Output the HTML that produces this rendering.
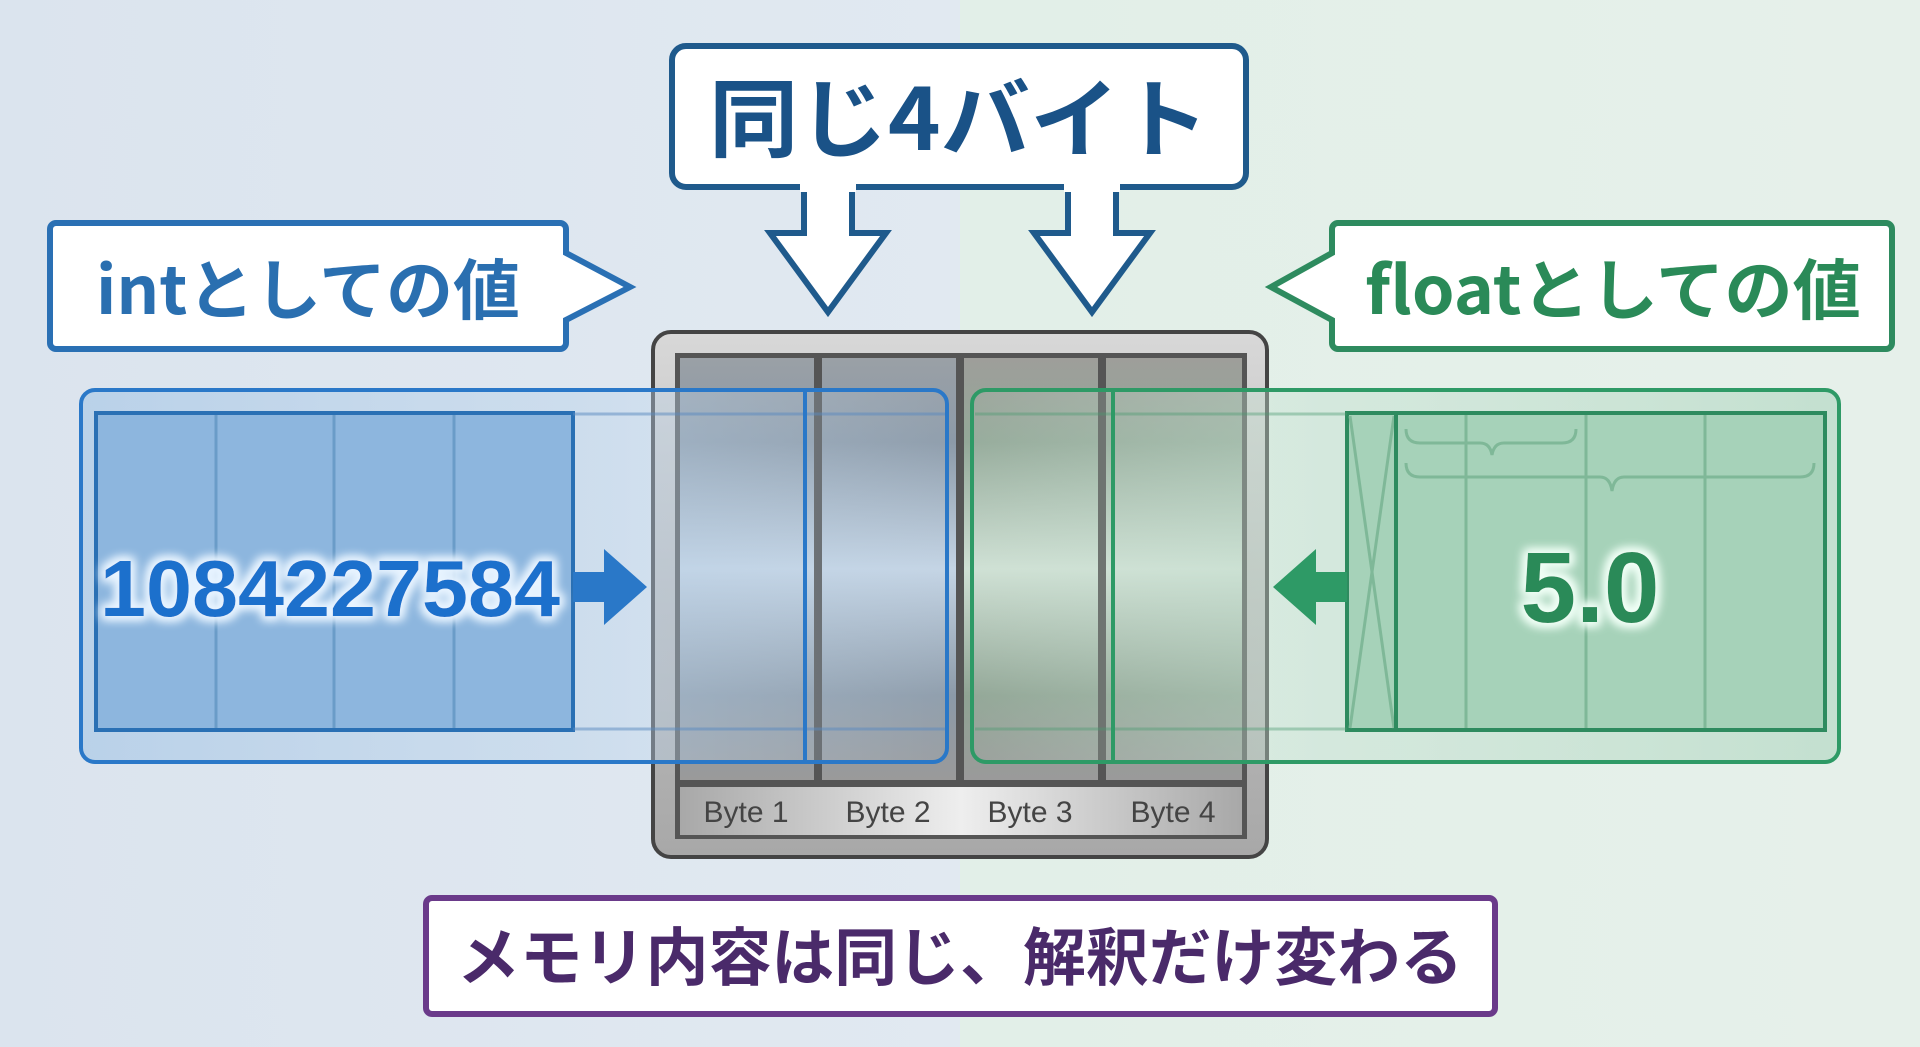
<!DOCTYPE html>
<html><head><meta charset="utf-8"><style>
html,body{margin:0;padding:0;width:1920px;height:1047px;overflow:hidden}
svg{display:block}
text{font-family:"Liberation Sans","Noto Sans CJK JP",sans-serif}
.jp{font-family:"Noto Sans CJK JP","Liberation Sans",sans-serif;font-weight:700}
</style></head><body>
<svg width="1920" height="1047" viewBox="0 0 1920 1047" xmlns="http://www.w3.org/2000/svg">
<defs>
<linearGradient id="bgL" x1="0" y1="0" x2="1" y2="0"><stop offset="0" stop-color="#dbe4ee"/><stop offset="1" stop-color="#e1e9f1"/></linearGradient>
<linearGradient id="bgR" x1="0" y1="0" x2="1" y2="0"><stop offset="0" stop-color="#e2efe8"/><stop offset="1" stop-color="#e6f0ea"/></linearGradient>
<linearGradient id="memOuter" x1="0" y1="0" x2="0" y2="1"><stop offset="0" stop-color="#d8d8d8"/><stop offset="0.5" stop-color="#bdbdbd"/><stop offset="1" stop-color="#a8a8a8"/></linearGradient>
<linearGradient id="colB" x1="0" y1="0" x2="0" y2="1"><stop offset="0" stop-color="#9aa0a6"/><stop offset="0.2" stop-color="#8c9aa8"/><stop offset="0.5" stop-color="#c4d4e4"/><stop offset="0.8" stop-color="#8c9aa8"/><stop offset="1" stop-color="#9a9a9a"/></linearGradient>
<linearGradient id="colG" x1="0" y1="0" x2="0" y2="1"><stop offset="0" stop-color="#9e9e9a"/><stop offset="0.2" stop-color="#93a898"/><stop offset="0.5" stop-color="#cfe0d4"/><stop offset="0.8" stop-color="#8fa393"/><stop offset="1" stop-color="#9a9a9a"/></linearGradient>
<linearGradient id="byteRow" x1="0" y1="0" x2="1" y2="0"><stop offset="0" stop-color="#a8a8a8"/><stop offset="0.5" stop-color="#eeeeee"/><stop offset="1" stop-color="#a8a8a8"/></linearGradient>
<linearGradient id="blueFade" x1="0" y1="0" x2="1" y2="0"><stop offset="0" stop-color="#a9c8e6" stop-opacity="0.9"/><stop offset="0.6" stop-color="#b9d2ea" stop-opacity="0.6"/><stop offset="1" stop-color="#c8dcef" stop-opacity="0.1"/></linearGradient>
<linearGradient id="greenFade" x1="1" y1="0" x2="0" y2="0"><stop offset="0" stop-color="#b3d8c3" stop-opacity="0.9"/><stop offset="0.6" stop-color="#c2e0cf" stop-opacity="0.6"/><stop offset="1" stop-color="#d0e8da" stop-opacity="0.1"/></linearGradient>
<filter id="glowB" x="-20%" y="-50%" width="140%" height="200%"><feMorphology operator="dilate" radius="3" in="SourceAlpha" result="d"/><feGaussianBlur in="d" stdDeviation="5" result="b"/><feFlood flood-color="#e8f4ff"/><feComposite in2="b" operator="in" result="g"/><feMerge><feMergeNode in="g"/><feMergeNode in="g"/><feMergeNode in="SourceGraphic"/></feMerge></filter>
<filter id="glowG" x="-20%" y="-50%" width="140%" height="200%"><feMorphology operator="dilate" radius="3" in="SourceAlpha" result="d"/><feGaussianBlur in="d" stdDeviation="5" result="b"/><feFlood flood-color="#f0fff6"/><feComposite in2="b" operator="in" result="g"/><feMerge><feMergeNode in="g"/><feMergeNode in="g"/><feMergeNode in="SourceGraphic"/></feMerge></filter>
</defs>
<rect x="0" y="0" width="960" height="1047" fill="url(#bgL)"/>
<rect x="960" y="0" width="960" height="1047" fill="url(#bgR)"/>

<!-- Title -->
<rect x="672" y="46" width="574" height="141" rx="14" fill="#fff" stroke="#1f5a8c" stroke-width="6"/>
<text x="959" y="150" class="jp" font-size="86" fill="#1a5287" text-anchor="middle" textLength="500" lengthAdjust="spacingAndGlyphs">同じ4バイト</text>
<!-- hollow arrows -->
<g fill="#fff" stroke="#1f5a8c" stroke-width="6" stroke-linejoin="miter">
<path d="M804 190 V233 H770 L828 312 L886 233 H852 V190"/>
<path d="M1068 190 V233 H1034 L1092 312 L1150 233 H1116 V190"/>
</g>
<rect x="800" y="180" width="56" height="12" fill="#fff"/>
<rect x="1064" y="180" width="56" height="12" fill="#fff"/>

<!-- int label -->
<path d="M56 223 H560 a6 6 0 0 1 6 6 V253 L630 287 L566 320 V343 a6 6 0 0 1 -6 6 H56 a6 6 0 0 1 -6 -6 V229 a6 6 0 0 1 6 -6 Z" fill="#fff" stroke="#2a70b4" stroke-width="6"/>
<text x="96" y="314" class="jp" font-size="66" fill="#2a6fb0" textLength="424" lengthAdjust="spacingAndGlyphs">intとしての値</text>
<!-- float label -->
<path d="M1338 223 H1886 a6 6 0 0 1 6 6 V343 a6 6 0 0 1 -6 6 H1338 a6 6 0 0 1 -6 -6 V320 L1271 287 L1332 253 V229 a6 6 0 0 1 6 -6 Z" fill="#fff" stroke="#2e8b5f" stroke-width="6"/>
<text x="1365" y="314" class="jp" font-size="66" fill="#2a8a58" textLength="496" lengthAdjust="spacingAndGlyphs">floatとしての値</text>

<!-- memory block -->
<rect x="653" y="332" width="614" height="525" rx="18" fill="url(#memOuter)" stroke="#444" stroke-width="4"/>
<rect x="675" y="353" width="572" height="486" fill="#555"/>
<rect x="680" y="358" width="134" height="422" fill="url(#colB)"/>
<rect x="822" y="358" width="134" height="422" fill="url(#colB)"/>
<rect x="964" y="358" width="134" height="422" fill="url(#colG)"/>
<rect x="1106" y="358" width="136" height="422" fill="url(#colG)"/>
<rect x="680" y="787" width="562" height="48" fill="url(#byteRow)"/>
<g font-size="30" fill="#444" text-anchor="middle">
<text x="746" y="822">Byte 1</text><text x="888" y="822">Byte 2</text><text x="1030" y="822">Byte 3</text><text x="1173" y="822">Byte 4</text>
</g>

<!-- blue group -->
<rect x="81" y="390" width="866" height="372" rx="14" fill="url(#blueFade)" opacity="0.75"/>
<rect x="96" y="413" width="477" height="317" fill="#8db6de" stroke="#2a70b4" stroke-width="4"/>
<g stroke="#6a9cc8" stroke-width="3"><line x1="216" y1="415" x2="216" y2="728"/><line x1="334" y1="415" x2="334" y2="728"/><line x1="454" y1="415" x2="454" y2="728"/></g>
<line x1="573" y1="414" x2="945" y2="414" stroke="#5a8ac0" stroke-width="3" opacity="0.5"/>
<line x1="573" y1="729" x2="945" y2="729" stroke="#5a8ac0" stroke-width="3" opacity="0.5"/>
<rect x="81" y="390" width="866" height="372" rx="14" fill="none" stroke="#2a78c8" stroke-width="4"/>
<line x1="805" y1="390" x2="805" y2="762" stroke="#2a78c8" stroke-width="4"/>
<text x="330" y="616" font-size="80" font-weight="700" fill="#1a6fcc" text-anchor="middle" filter="url(#glowB)" textLength="460" lengthAdjust="spacingAndGlyphs">1084227584</text>
<path d="M573 572 H604 V549 L647 587 L604 625 V602 H573 Z" fill="#2a78c8"/>

<!-- green group -->
<rect x="972" y="390" width="867" height="372" rx="14" fill="url(#greenFade)" opacity="0.75"/>
<rect x="1347" y="413" width="478" height="317" fill="#a6d2b9" stroke="#2e8b5f" stroke-width="4"/>
<g stroke="#7fb898" stroke-width="3" fill="none"><line x1="1466" y1="415" x2="1466" y2="728"/><line x1="1586" y1="415" x2="1586" y2="728"/><line x1="1705" y1="415" x2="1705" y2="728"/>
<line x1="1350" y1="416" x2="1394" y2="728"/><line x1="1394" y1="416" x2="1350" y2="728"/>
<path d="M1406 429 q0 14 14 14 H1480 q10 0 12 12 q2 -12 12 -12 H1562 q14 0 14 -14"/>
<path d="M1406 463 q0 14 14 14 H1600 q10 0 12 14 q2 -14 12 -14 H1800 q14 0 14 -14"/>
</g>
<line x1="1396" y1="414" x2="1396" y2="729" stroke="#2e8b5f" stroke-width="4"/>
<line x1="975" y1="414" x2="1347" y2="414" stroke="#4a9a70" stroke-width="3" opacity="0.4"/>
<line x1="975" y1="729" x2="1347" y2="729" stroke="#4a9a70" stroke-width="3" opacity="0.4"/>
<rect x="972" y="390" width="867" height="372" rx="14" fill="none" stroke="#2e9a66" stroke-width="4"/>
<line x1="1113" y1="390" x2="1113" y2="762" stroke="#2e9a66" stroke-width="4"/>
<text x="1590" y="622" font-size="100" font-weight="700" fill="#2a8a58" text-anchor="middle" filter="url(#glowG)">5.0</text>
<path d="M1347 572 H1316 V549 L1273 587 L1316 625 V602 H1347 Z" fill="#2e9a66"/>

<!-- bottom -->
<rect x="426" y="898" width="1069" height="116" rx="6" fill="#fff" stroke="#6a3a8a" stroke-width="6"/>
<text x="960" y="980" class="jp" font-size="63" fill="#4a2a6a" text-anchor="middle" textLength="1006" lengthAdjust="spacingAndGlyphs">メモリ内容は同じ、解釈だけ変わる</text>
</svg>
</body></html>
